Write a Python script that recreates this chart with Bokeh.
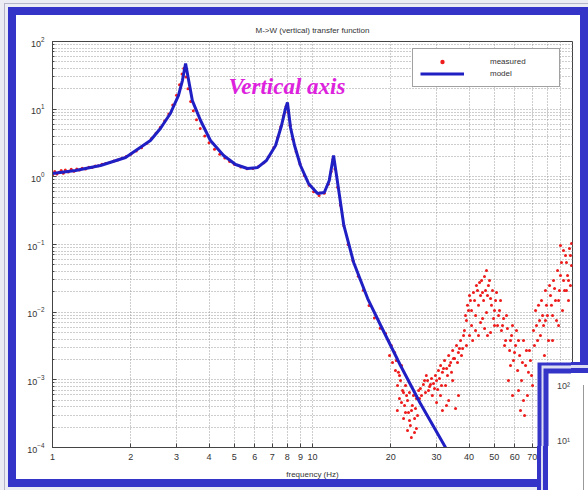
from bokeh.plotting import figure
from bokeh.models import (BoxAnnotation, Label, Legend, LegendItem, FixedTicker,
                          InlineStyleSheet)
from bokeh.embed import file_html
from bokeh.resources import INLINE

# ---------------- data ----------------
model_freq = [1.0, 1.226, 1.53, 1.91, 2.38, 2.60, 2.84, 3.05, 3.16, 3.25, 3.34, 3.45,
              3.71, 4.05, 4.55, 5.06, 5.62, 6.14, 6.65, 7.21, 7.60, 7.87, 8.01, 8.23,
              8.53, 8.99, 9.65, 10.45, 11.1, 11.6, 12.05, 12.5, 13.2, 14.4, 16.3, 18.3,
              21.8, 26.0, 33.0]
model_mag = [1.12, 1.24, 1.47, 1.93, 3.44, 5.18, 8.63, 15.9, 26.5, 47.3, 26.5, 13.4,
             6.8, 3.44, 2.07, 1.52, 1.33, 1.37, 1.74, 2.90, 5.74, 10.2, 12.6, 5.36,
             2.90, 1.47, 0.80, 0.567, 0.587, 0.883, 2.07, 0.80, 0.191, 0.0542, 0.0159,
             0.00635, 0.00163, 0.000448, 0.00009]

# measured points that follow the resonance curve
meas_freq = [1.00, 1.02, 1.04, 1.06, 1.08, 1.10, 1.12, 1.15, 1.18, 1.21, 1.24, 1.27, 1.30,
             1.34, 1.38, 1.42, 1.46, 1.50, 1.55, 1.60, 1.66, 1.72, 1.78, 1.85, 1.92,
             2.00, 2.10, 2.20, 2.30, 2.40, 2.50, 2.60, 2.70, 2.80, 2.90,
             3.00, 3.08, 3.15, 3.20, 3.26, 3.32, 3.40, 3.48, 3.58, 3.70, 3.85,
             4.00, 4.20, 4.40, 4.60, 4.80, 5.00, 5.30, 5.60, 5.90, 6.20, 6.50, 6.80,
             7.10, 7.35, 7.55, 7.75, 7.92, 8.05, 8.20, 8.40, 8.65, 8.95,
             9.30, 9.70, 10.1, 10.6, 11.1, 11.5, 11.8, 11.98, 12.2, 12.5,
             12.8, 13.2, 13.7, 14.3, 15.0, 15.7, 16.5, 17.3, 18.2]
meas_mag = [1.05, 1.20, 1.10, 1.17, 1.24, 1.13, 1.26, 1.18, 1.29, 1.21, 1.31, 1.26, 1.34,
            1.31, 1.39, 1.37, 1.44, 1.46, 1.53, 1.57, 1.63, 1.71, 1.78, 1.88, 1.99,
            2.15, 2.40, 2.70, 3.10, 3.70, 4.40, 5.40, 6.70, 8.50, 11.5,
            16.0, 23.0, 33.0, 40.0, 30.0, 20.0, 13.0, 9.5, 7.0, 5.2, 4.0,
            3.2, 2.55, 2.15, 1.90, 1.68, 1.53, 1.40, 1.32, 1.33, 1.42, 1.62, 2.0,
            2.7, 3.8, 5.5, 8.0, 11.0, 9.0, 5.8, 3.6, 2.35, 1.55,
            1.05, 0.75, 0.60, 0.53, 0.57, 0.78, 1.2, 1.8, 1.3, 0.70,
            0.38, 0.19, 0.10, 0.058, 0.034, 0.021, 0.0125, 0.0082, 0.0058]

# measured points in the noisy high-frequency part
noise_freq = [
    19.1, 19.6, 20.1, 20.7, 21.0, 21.4, 21.8, 22.2, 21.6, 22.6, 23.0, 23.4, 22.4,
    23.8, 23.2, 24.2, 24.7, 24.0, 25.1, 25.6, 25.1, 22.8, 22.0, 21.2, 23.6,
    19.78, 20.31, 20.85, 21.23, 21.61, 22.0, 22.39, 22.79, 23.2, 23.61, 24.03, 24.46,
    24.9, 25.35, 25.8, 24.68,
    26.0, 26.7, 27.2, 27.7, 28.2, 28.7, 29.2, 29.7, 30.3, 28.9, 27.4, 30.5, 31.1,
    31.6, 32.2, 32.8, 33.4, 34.0, 34.6, 35.2, 35.8, 36.4, 37.1, 37.8, 30.0, 31.6,
    33.4, 35.5, 32.5, 34.6,
    26.25, 26.96, 27.93, 28.43, 29.46, 29.99, 30.79, 31.35, 31.9, 33.05, 33.65, 34.25,
    34.86, 36.12, 36.76, 37.42, 38.1, 31.07, 32.76, 36.44,
    38.4, 39.1, 39.8, 40.5, 40.9, 41.6, 42.4, 42.7, 43.5, 44.3, 44.7, 45.5, 46.3,
    46.7, 47.5, 48.4, 48.8, 49.7, 50.6, 51.5, 52.4, 41.3, 43.5, 45.9, 48.4, 39.1, 45.1,
    38.77, 39.46, 40.17, 40.89, 42.0, 43.12, 43.9, 45.07, 45.87, 47.1, 47.95, 49.24,
    50.13, 51.03, 51.95, 52.87, 42.37, 44.29, 47.1, 50.13, 40.17, 46.69,
    53.3, 54.3, 55.3, 56.2, 57.3, 58.3, 59.3, 60.4, 61.5, 62.6, 63.7, 64.8, 66.0,
    67.1, 68.3, 69.6, 63.1, 58.8, 65.4, 56.7, 60.9,
    53.8, 54.8, 55.75, 57.76, 58.79, 59.85, 62.0, 64.2, 66.5, 67.7, 68.9, 70.2, 62.0,
    57.76, 64.79,
    70.8, 72.1, 73.4, 74.7, 76.0, 77.4, 78.7, 80.1, 81.6, 83.0, 84.5, 86.0, 87.6,
    89.1, 90.7, 92.4, 94.0, 95.7, 97.4, 99.1, 86.8, 91.5, 96.5, 80.9, 78.0, 89.9,
    94.8, 98.2,
    71.4, 72.7, 74.0, 75.3, 76.7, 79.4, 82.3, 83.8, 85.3, 88.4, 89.9, 93.2, 94.8,
    96.5, 98.2, 92.35, 99.1, 83.8, 88.4, 78.7]
noise_mag = [
    0.00484, 0.00381, 0.00322, 0.00254, 0.00193, 0.00129, 0.000977, 0.000697,
    0.00053, 0.000418, 0.000587, 0.000329, 0.000269, 0.000211, 0.000178, 0.000418,
    0.000269, 0.000141, 0.00053, 0.000697, 0.000191, 0.000824, 0.00163, 0.000352,
    0.00065,
    0.00229, 0.0018, 0.00137, 0.000824, 0.00116, 0.000462, 0.00065, 0.000329, 0.000495,
    0.000251, 0.000352, 0.000587, 0.000378, 0.000297, 0.00053, 0.000167,
    0.000745, 0.000853, 0.00065, 0.000977, 0.000798, 0.00105, 0.000883, 0.00116,
    0.00072, 0.000587, 0.00116, 0.00137, 0.00163, 0.00129, 0.00193, 0.00147,
    0.00229, 0.0018, 0.00271, 0.00207, 0.00322, 0.00254, 0.00381, 0.0029,
    0.000462, 0.000352, 0.000495, 0.000378, 0.000824, 0.000977,
    0.000587, 0.000977, 0.000697, 0.000853, 0.000745, 0.000977, 0.00105, 0.000824,
    0.00147, 0.00116, 0.00163, 0.00129, 0.00207, 0.0018, 0.0029, 0.00229, 0.00452,
    0.000587, 0.000418, 0.000587,
    0.00536, 0.00753, 0.0106, 0.0149, 0.00635, 0.0195, 0.00893, 0.0248, 0.0126,
    0.0176, 0.0294, 0.0149, 0.0209, 0.00989, 0.0248, 0.0159, 0.0126, 0.00807,
    0.0149, 0.00635, 0.0106, 0.00381, 0.00452, 0.00574, 0.00501, 0.00322, 0.00807,
    0.00893, 0.0126, 0.0176, 0.0106, 0.0149, 0.0209, 0.0275, 0.0195, 0.0337, 0.0176,
    0.0294, 0.0209, 0.0106, 0.0195, 0.00893, 0.0149, 0.00536, 0.00704, 0.00452,
    0.00635, 0.00452, 0.0413,
    0.00536, 0.00807, 0.00381, 0.00574, 0.00271, 0.00452, 0.00193, 0.00322,
    0.00137, 0.00229, 0.000977, 0.00381, 0.00163, 0.000587, 0.00271, 0.00116,
    0.000352, 0.000587, 0.000297, 0.000977, 0.00536,
    0.00635, 0.00322, 0.00893, 0.00381, 0.00635, 0.00254, 0.00381, 0.0018, 0.00271,
    0.00129, 0.00193, 0.000824, 0.000697, 0.00163, 0.000495,
    0.00536, 0.0106, 0.00381, 0.00753, 0.0149, 0.00635, 0.0209, 0.00893, 0.0248,
    0.0126, 0.0294, 0.0149, 0.0413, 0.0209, 0.0542, 0.0294, 0.0688, 0.0348,
    0.0873, 0.049, 0.00753, 0.0106, 0.0149, 0.00381, 0.00229, 0.0966, 0.0209,
    0.0248,
    0.00322, 0.00635, 0.0126, 0.00452, 0.00893, 0.0126, 0.0176, 0.00893, 0.0224,
    0.0149, 0.0348, 0.0209, 0.0542, 0.0294, 0.0688, 0.0815, 0.1035, 0.00381,
    0.00635, 0.00753]

x_ticks = [1, 2, 3, 4, 5, 6, 7, 8, 9, 10, 20, 30, 40, 50, 60, 70, 80, 90, 100]
x_tick_labels = ["1", "2", "3", "4", "5", "6", "7", "8", "9", "10",
                 "20", "30", "40", "50", "60", "70", "80", "90", "100"]
y_ticks = [1e-4, 1e-3, 1e-2, 1e-1, 1, 10, 100]

title_text = "M->W (vertical) transfer function"
annot_text = "Vertical axis"
panel2_labels = ["10²", "10¹"]

# ---------------- layout constants (pixels) ----------------
W, H = 588, 490
FL, FR, FT, FB = 52, 572, 41, 447   # plot frame edges inside the canvas

p = figure(width=W, height=H, x_axis_type="log", y_axis_type="log",
           x_range=(1, 100), y_range=(1e-4, 1e2),
           output_backend="svg", toolbar_location=None,
           min_border_left=FL, min_border_right=W - FR,
           min_border_top=FT, min_border_bottom=H - FB,
           title=title_text)
p.background_fill_color = "white"
p.border_fill_color = "white"
p.outline_line_color = "#444444"
p.outline_line_width = 1

p.title.align = "center"
p.title.text_font = "Liberation Sans"
p.title.text_font_size = "8px"
p.title.text_font_style = "normal"
p.title.text_color = "#333333"
p.title.standoff = 14

xt = FixedTicker(ticks=x_ticks)
p.xaxis.ticker = xt
p.xgrid.ticker = xt
p.xaxis.major_label_overrides = {t: l for t, l in zip(x_ticks, x_tick_labels)}

y_minor = [m * d for d in y_ticks[:-1] for m in range(2, 10)]
yt = FixedTicker(ticks=y_ticks, minor_ticks=y_minor)
p.yaxis.ticker = yt
p.ygrid.ticker = yt

for ax in (p.xaxis[0], p.yaxis[0]):
    ax.major_tick_in = 4
    ax.major_tick_out = 0
    ax.minor_tick_in = 2
    ax.minor_tick_out = 0
    ax.axis_line_color = "#444444"
    ax.major_tick_line_color = "#444444"
    ax.minor_tick_line_color = "#444444"
    ax.major_label_text_font = "Liberation Sans"
    ax.major_label_text_font_size = "9px"
    ax.major_label_text_color = "#333333"
p.yaxis.major_label_standoff = 8
p.xaxis.major_label_standoff = 6
p.xaxis.axis_label = "frequency (Hz)"
p.xaxis.axis_label_text_font = "Liberation Sans"
p.xaxis.axis_label_text_font_size = "8px"
p.xaxis.axis_label_text_font_style = "normal"
p.xaxis.axis_label_text_color = "#333333"
p.xaxis.axis_label_standoff = 7

for g in (p.xgrid, p.ygrid):
    g.grid_line_color = "#9a9a9a"
    g.grid_line_dash = "1 2"
    g.grid_line_width = 1
p.ygrid.minor_grid_line_color = "#9a9a9a"
p.ygrid.minor_grid_line_dash = "1 2"

r_meas = p.scatter(meas_freq + noise_freq, meas_mag + noise_mag, marker="circle",
                   size=3, fill_color="#ee1c1c", line_color=None)
r_model = p.line(model_freq, model_mag, line_color="#1f1fc4", line_width=3)

legend = Legend(items=[LegendItem(label="measured", renderers=[r_meas]),
                       LegendItem(label="model", renderers=[r_model])],
                location=(360, 360), padding=7, spacing=1,
                glyph_width=44, glyph_height=11, label_height=11,
                label_standoff=26, label_width=62,
                label_text_font="Liberation Sans", label_text_font_size="8px",
                label_text_color="#333333", border_line_color="#444444",
                background_fill_color="white", background_fill_alpha=1.0)
p.add_layout(legend)

p.add_layout(Label(x=4.75, y=21.5, text=annot_text, text_baseline="middle",
                   text_font="Liberation Serif", text_font_style="bold italic",
                   text_font_size="23px", text_color="#dd22dd"))

# ---------------- overlapping second scanned panel (inside plot frame) ----------------
def sx(cx):
    return cx - FL

def sy(cy):
    return FB - cy

def box(x0, y0, x1, y1, color):
    p.add_layout(BoxAnnotation(left=sx(x0), right=sx(x1), top=sy(y0), bottom=sy(y1),
                               left_units="screen", right_units="screen",
                               top_units="screen", bottom_units="screen",
                               fill_color=color, fill_alpha=1.0, line_color=None,
                               level="overlay"))

BLUE = "#3434c8"
LIGHT = "#dcdcf2"
box(537, 362, 588, 490, BLUE)
box(541, 365, 588, 490, LIGHT)
box(543, 368, 588, 490, BLUE)
box(548, 373, 588, 490, "white")
for t, cy in zip(panel2_labels, (385, 440)):
    p.add_layout(Label(x=sx(563), y=sy(cy), x_units="screen", y_units="screen",
                       text=t, text_align="center", text_baseline="middle",
                       text_font="Liberation Sans", text_font_size="9px",
                       text_color="#444444", level="overlay"))

# page frame of the scan and the part of the second panel outside the plot frame
css = """
:host { position: relative; }
:host::before {
  content: ""; position: absolute; left: 8px; top: 7px; width: 580px; height: 480px;
  box-sizing: border-box; border: 8px solid #3434c8; pointer-events: none; z-index: 50;
  box-shadow: 0 0 0 3px #ececf4, 0 0 0 4px #b4b4c8, 0 0 0 8px #ececf4;
}
:host::after {
  content: ""; position: absolute; left: 537px; top: 362px; width: 51px; height: 128px;
  box-sizing: border-box;
  background: linear-gradient(#999999, #999999) no-repeat 42px 20px / 1px 110px, white;
  border-left: 4px solid #3434c8; border-top: 3px solid #3434c8;
  box-shadow: inset 2px 3px 0 0 #dcdcf2, inset 7px 8px 0 0 #3434c8;
  clip-path: polygon(34px 0, 51px 0, 51px 128px, 0 128px, 0 84px, 34px 84px);
  pointer-events: none; z-index: 51;
}
"""
p.stylesheets = [InlineStyleSheet(css=css)]

open("out.html", "w").write(file_html(p, INLINE))
